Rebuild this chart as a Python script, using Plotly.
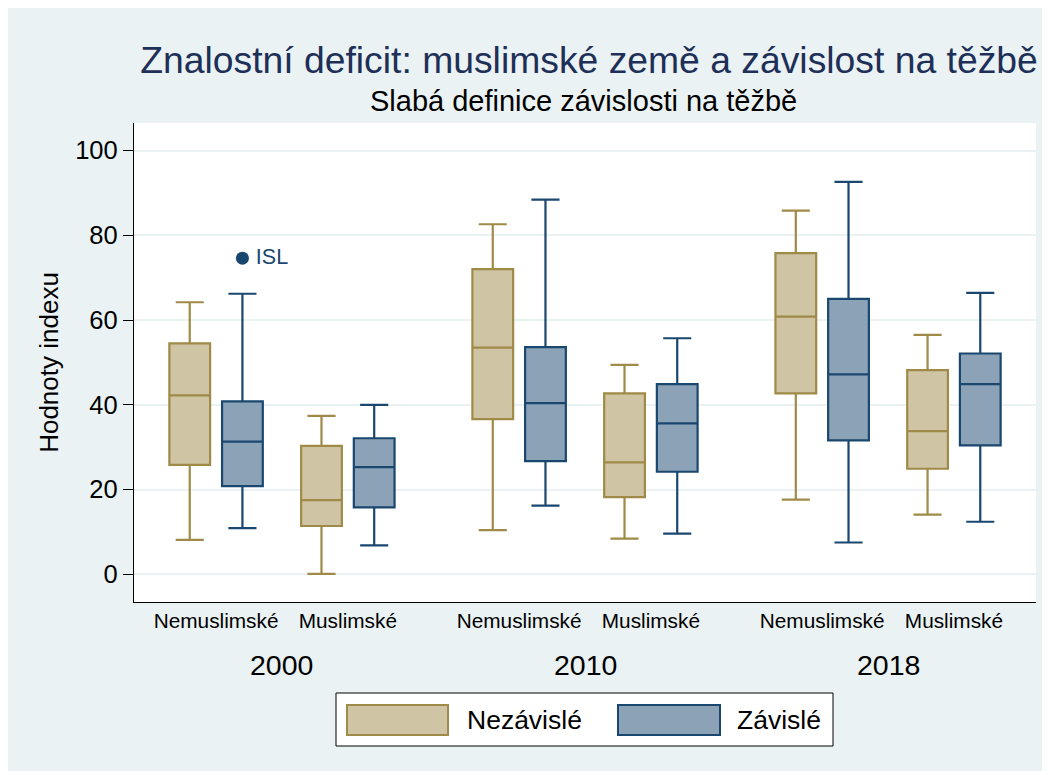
import plotly.graph_objects as go

# --- data --------------------------------------------------------------------
years = ["2000", "2010", "2018"]
groups = ["Nemuslimské", "Muslimské"]
series = ["Nezávislé", "Závislé"]

# order: 2000 Nem, 2000 Mus, 2010 Nem, 2010 Mus, 2018 Nem, 2018 Mus
nez_lower = [8.1, 0.1, 10.4, 8.4, 17.6, 14.1]
nez_q1 = [25.8, 11.4, 36.6, 18.2, 42.7, 24.9]
nez_median = [42.2, 17.5, 53.5, 26.4, 60.8, 33.8]
nez_q3 = [54.5, 30.3, 72.0, 42.7, 75.8, 48.2]
nez_upper = [64.2, 37.4, 82.6, 49.4, 85.8, 56.5]

zav_lower = [10.9, 6.8, 16.2, 9.6, 7.5, 12.4]
zav_q1 = [20.8, 15.8, 26.7, 24.2, 31.6, 30.4]
zav_median = [31.3, 25.3, 40.4, 35.6, 47.2, 44.9]
zav_q3 = [40.8, 32.1, 53.6, 44.9, 65.0, 52.1]
zav_upper = [66.2, 40.0, 88.4, 55.7, 92.6, 66.4]

outlier_label = "ISL"
outlier_value = 74.6
outlier_year = "2000"
outlier_group = "Nemuslimské"

y_ticks = [0, 20, 40, 60, 80, 100]

# --- look ---------------------------------------------------------------------
W, H = 1050, 771
OFF = 8  # page body margin; pixel positions below are screen positions
M_L, M_R, M_T, M_B = 126, 22, 115, 177
PW, PH = W - M_L - M_R, H - M_T - M_B

FONT = "Liberation Sans, Arial, Helvetica, sans-serif"
BG = "#eaf2f3"
NAVY = "#1a476f"
TITLE_C = "#1e2f58"
colors = {
    "Nezávislé": {"line": "#a08a48", "fill": "#cfc4a3"},
    "Závislé": {"line": NAVY, "fill": "#8ca3b7"},
}

BOXGAP = 0.2
YEAR_GAP = 0.3


def px(x):
    return (x - OFF - M_L) / PW


def py(y):
    return (H - M_B - (y - OFF)) / PH


# category positions on a numeric axis (two groups per year, wider gap between years)
positions = []
labels = []
for yi, year in enumerate(years):
    for gi, g in enumerate(groups):
        positions.append(yi * (len(groups) + YEAR_GAP) + gi)
        labels.append(g)

fig = go.Figure()

stats = {
    "Nezávislé": (nez_lower, nez_q1, nez_median, nez_q3, nez_upper),
    "Závislé": (zav_lower, zav_q1, zav_median, zav_q3, zav_upper),
}
for name in series:
    lo, q1, med, q3, hi = stats[name]
    fig.add_trace(go.Box(
        name=name, x=positions, q1=q1, median=med, q3=q3,
        lowerfence=lo, upperfence=hi,
        fillcolor=colors[name]["fill"],
        line={"color": colors[name]["line"], "width": 2.2},
        whiskerwidth=0.69, boxpoints=False, showlegend=False, hoverinfo="skip",
    ))

# outlier sits on the Závislé box of its slot
offset = (1 - BOXGAP) / 4
idx = years.index(outlier_year) * len(groups) + groups.index(outlier_group)
fig.add_trace(go.Scatter(
    x=[positions[idx] + offset], y=[outlier_value], mode="markers+text",
    text=["\u2009" + outlier_label], textposition="middle right",
    textfont={"family": FONT, "size": 21.5, "color": NAVY},
    marker={"color": NAVY, "size": 13}, showlegend=False, hoverinfo="skip",
))

x_lo = positions[0] - 0.623
x_hi = positions[-1] + 0.623

fig.update_layout(
    width=W, height=H,
    margin={"l": M_L, "r": M_R, "t": M_T, "b": M_B, "pad": 0},
    paper_bgcolor=BG, plot_bgcolor="white",
    font={"family": FONT, "color": "black"},
    boxmode="group", boxgap=BOXGAP, boxgroupgap=0.227,
    showlegend=False,
    title={"text": "Znalostní deficit: muslimské země a závislost na těžbě",
           "font": {"size": 37.3, "color": TITLE_C},
           "x": px(589), "xref": "paper", "xanchor": "center",
           "y": 1 - (60 - OFF) / H, "yanchor": "middle"},
)

fig.update_xaxes(
    range=[x_lo, x_hi], tickvals=positions, ticktext=labels,
    tickfont={"size": 20.8}, ticks="", showgrid=False, zeroline=False,
    showline=True, linecolor="black", linewidth=1.4,
)
fig.update_yaxes(
    range=[-6.54, 106.5], tickvals=y_ticks, tickfont={"size": 25.5},
    ticks="outside", ticklen=10, tickcolor="black", tickwidth=1.2,
    showgrid=True, gridcolor=BG, gridwidth=1.6, zeroline=False,
    showline=True, linecolor="black", linewidth=1.4,
    title={"text": "Hodnoty indexu", "font": {"size": 26}, "standoff": 9},
)

annotations = [
    dict(text="Slabá definice závislosti na těžbě", x=px(583.5), y=py(101),
         xref="paper", yref="paper", showarrow=False, yanchor="middle",
         font={"size": 29}),
]
# year labels under each pair
for yi, year in enumerate(years):
    mid = (positions[yi * 2] + positions[yi * 2 + 1]) / 2
    annotations.append(dict(text=year, x=mid, y=py(665), xref="x", yref="paper",
                            showarrow=False, yanchor="middle", font={"size": 28.5}))

# legend box drawn by hand (Stata-style wide swatches)
shapes = [
    dict(type="rect", xref="paper", yref="paper", x0=px(336), x1=px(833), y0=py(746), y1=py(693),
         fillcolor="white", line={"color": "black", "width": 1}),
]
legend_x = [(347, 448, 465), (618, 720, 735)]
for name, (sx0, sx1, tx) in zip(series, legend_x):
    shapes.append(dict(type="rect", xref="paper", yref="paper", x0=px(sx0), x1=px(sx1),
                       y0=py(735), y1=py(705), fillcolor=colors[name]["fill"],
                       line={"color": colors[name]["line"], "width": 2}))
    annotations.append(dict(text=name, x=px(tx), y=py(720), xref="paper", yref="paper",
                            showarrow=False, xanchor="left", yanchor="middle",
                            font={"size": 26.5}))

fig.update_layout(annotations=annotations, shapes=shapes)

fig.write_html("out.html")
